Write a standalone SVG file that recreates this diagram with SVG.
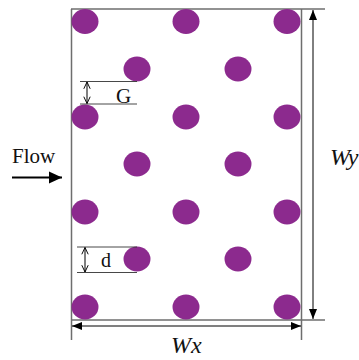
<svg xmlns="http://www.w3.org/2000/svg" width="359" height="360" viewBox="0 0 359 360">
<defs>
<style>
.pin{fill:#8c2a8e;}
.frame{stroke:#6e6e6e;stroke-width:1.5;fill:none;}
.dim{stroke:#000;stroke-width:1;fill:none;}
.thin{stroke:#333;stroke-width:0.9;fill:none;}
.lbl{font-family:"Liberation Serif","Times New Roman",serif;fill:#111;}
.it{font-style:italic;}
</style>
<marker id="ah" viewBox="0 0 10 10" refX="10" refY="5" markerWidth="10" markerHeight="10" markerUnits="userSpaceOnUse" orient="auto-start-reverse">
<path d="M0,1 L10,5 L0,9 Z" fill="#000"/>
</marker>
<marker id="ao" viewBox="0 0 10 10" refX="9.5" refY="5" markerWidth="8" markerHeight="8" markerUnits="userSpaceOnUse" orient="auto-start-reverse">
<path d="M1,1 L9.5,5 L1,9" fill="none" stroke="#000" stroke-width="1.2"/>
</marker>
<marker id="af" viewBox="0 0 12 12" refX="12" refY="6" markerWidth="13" markerHeight="13" markerUnits="userSpaceOnUse" orient="auto">
<path d="M0,0.5 L12,6 L0,11.5 Z" fill="#000"/>
</marker>
</defs>
<g id="domain">
<line class="frame" x1="71" y1="9" x2="325" y2="9"/>
<line class="frame" x1="71" y1="320" x2="325" y2="320"/>
<line class="frame" x1="71.5" y1="9" x2="71.5" y2="340"/>
<line class="frame" x1="301.5" y1="9" x2="301.5" y2="340"/>
</g>
<g id="pins">
<ellipse class="pin" cx="85" cy="21.5" rx="13.5" ry="12.5"/>
<ellipse class="pin" cx="186" cy="21.5" rx="13.5" ry="12.5"/>
<ellipse class="pin" cx="287" cy="21.5" rx="13.5" ry="12.5"/>
<ellipse class="pin" cx="137" cy="69" rx="13.5" ry="12.5"/>
<ellipse class="pin" cx="238" cy="69" rx="13.5" ry="12.5"/>
<ellipse class="pin" cx="85" cy="117" rx="13.5" ry="12.5"/>
<ellipse class="pin" cx="186" cy="117" rx="13.5" ry="12.5"/>
<ellipse class="pin" cx="287" cy="117" rx="13.5" ry="12.5"/>
<ellipse class="pin" cx="137" cy="164" rx="13.5" ry="12.5"/>
<ellipse class="pin" cx="238" cy="164" rx="13.5" ry="12.5"/>
<ellipse class="pin" cx="85" cy="212" rx="13.5" ry="12.5"/>
<ellipse class="pin" cx="186" cy="212" rx="13.5" ry="12.5"/>
<ellipse class="pin" cx="287" cy="212" rx="13.5" ry="12.5"/>
<ellipse class="pin" cx="137" cy="259" rx="13.5" ry="12.5"/>
<ellipse class="pin" cx="238" cy="259" rx="13.5" ry="12.5"/>
<ellipse class="pin" cx="85" cy="307" rx="13.5" ry="12.5"/>
<ellipse class="pin" cx="186" cy="307" rx="13.5" ry="12.5"/>
<ellipse class="pin" cx="287" cy="307" rx="13.5" ry="12.5"/>
</g>
<g id="connectors">
<line class="dim" x1="313" y1="10" x2="313" y2="319" marker-start="url(#ah)" marker-end="url(#ah)"/>
<line class="dim" x1="72" y1="326" x2="301" y2="326" marker-start="url(#ah)" marker-end="url(#ah)"/>
<line class="thin" x1="80" y1="81.5" x2="137" y2="81.5"/>
<line class="thin" x1="80" y1="104" x2="137" y2="104"/>
<line class="dim" x1="87" y1="82" x2="87" y2="103.5" marker-start="url(#ao)" marker-end="url(#ao)"/>
<line class="thin" x1="77" y1="247" x2="137" y2="247"/>
<line class="thin" x1="77" y1="272.5" x2="137" y2="272.5"/>
<line class="dim" x1="85" y1="247.5" x2="85" y2="272" marker-start="url(#ao)" marker-end="url(#ao)"/>
<line x1="12" y1="177.5" x2="62" y2="177.5" stroke="#000" stroke-width="2" marker-end="url(#af)"/>
</g>
<g id="labels">
<text class="lbl" x="12" y="163" font-size="21">Flow</text>
<text class="lbl" x="116" y="103" font-size="21">G</text>
<text class="lbl" x="101" y="267" font-size="20">d</text>
<text class="lbl it" x="330" y="165" font-size="24">Wy</text>
<text class="lbl it" x="171" y="353" font-size="24">Wx</text>
</g>
</svg>
